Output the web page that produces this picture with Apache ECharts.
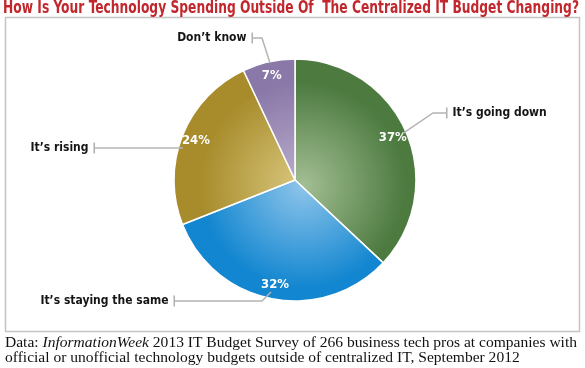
<!DOCTYPE html>
<html>
<head>
<meta charset="utf-8">
<script src="https://cdn.jsdelivr.net/npm/echarts@6/dist/echarts.min.js"></script>
<style>html,body{margin:0;padding:0;background:#fff}#c{width:585px;height:368px}</style>
</head>
<body>
<div id="c"></div>
<script>
// ---- data ----
const categories = ["It\u2019s going down", "It\u2019s staying the same", "It\u2019s rising", "Don\u2019t know"];
const values = [37, 32, 24, 7];
const titleText = "How Is Your Technology Spending Outside Of  The Centralized IT Budget Changing?";
const sourceLine1Parts = ["Data: ", "InformationWeek", " 2013 IT Budget Survey of 266 business tech pros at companies with"];
const sourceLine2 = "official or unofficial technology budgets outside of centralized IT, September 2012";

// ---- styles ----
const baseColors = ["#4c7a3f", "#1286d0", "#a88c2c", "#8a78a8"];
const lightColors = ["#a3be94", "#8ec5ea", "#d9c87e", "#bbaecd"];
const NARROW = '"Liberation Sans Narrow", "DejaVu Sans Condensed", sans-serif';
const TITLE_FONT = 'bold 18px ' + NARROW;
const SERIF_SIZE = 15;
const CX = 295, CY = 180, R = 121;
const labelCfg = {};
labelCfg[categories[0]] = { x: 446, y: 113, align: 'left', bend: [433, 113] };
labelCfg[categories[1]] = { x: 175, y: 301, align: 'right', bend: [262, 301], start: [271, 292] };
labelCfg[categories[2]] = { x: 95, y: 148, align: 'right', start: [183, 148] };
labelCfg[categories[3]] = { x: 253, y: 38, align: 'right', bend: [262, 38], start: [270, 63] };

// measure text to fit target widths
const mctx = document.createElement('canvas').getContext('2d');
function textW(font, s) { mctx.font = font; return mctx.measureText(s).width; }
const titleScale = 576 / textW(TITLE_FONT, titleText);
const serifN = SERIF_SIZE + 'px "Liberation Serif", serif';
const serifI = 'italic ' + SERIF_SIZE + 'px "Liberation Serif", serif';
const line1W = textW(serifN, sourceLine1Parts[0]) + textW(serifI, sourceLine1Parts[1]) + textW(serifN, sourceLine1Parts[2]);
const footScale = 572 / line1W;

function grad(i) {
  return { type: 'radial', x: CX + 8, y: CY + 5, r: R, global: true,
    colorStops: [{ offset: 0, color: lightColors[i] }, { offset: 0.85, color: baseColors[i] }, { offset: 1, color: baseColors[i] }] };
}
const pieData = categories.map((c, i) => ({ name: c, value: values[i], itemStyle: { color: grad(i) } }));
const plainData = categories.map((c, i) => ({ name: c, value: values[i] }));

const chart = echarts.init(document.getElementById('c'), null, { renderer: 'canvas' });
chart.setOption({
  animation: false,
  graphic: [
    { type: 'rect', shape: { x: 5.5, y: 17.5, width: 574, height: 314 }, style: { fill: 'none', stroke: '#c4c4c4', lineWidth: 1.5 }, silent: true },
    { type: 'text', x: 291, y: -1, scaleX: titleScale, style: { text: titleText, fill: '#c1272d', font: TITLE_FONT, textAlign: 'center', textVerticalAlign: 'top' } },
    { type: 'text', x: 5, y: 336, scaleX: footScale, style: {
        text: '{n|' + sourceLine1Parts[0] + '}{i|' + sourceLine1Parts[1] + '}{n|' + sourceLine1Parts[2] + '}',
        rich: { n: { font: serifN, fill: '#111' }, i: { font: serifI, fill: '#111' } } } },
    { type: 'text', x: 5, y: 351, scaleX: footScale, style: { text: sourceLine2, font: serifN, fill: '#111' } }
  ],
  series: [
    { type: 'pie', center: [CX, CY], radius: [0, R], startAngle: 90, clockwise: true, silent: true,
      itemStyle: { borderColor: '#fff', borderWidth: 1.5 }, label: { show: false }, labelLine: { show: false },
      data: pieData },
    { type: 'pie', center: [CX, CY], radius: [86, R], startAngle: 90, clockwise: true, silent: true,
      itemStyle: { color: 'rgba(0,0,0,0)', borderWidth: 0 }, labelLine: { show: false },
      label: { show: true, position: 'inside', formatter: '{c}%', color: '#fff', fontWeight: 'bold', fontSize: 13, fontFamily: NARROW },
      data: plainData, z: 3 },
    { type: 'pie', center: [CX, CY], radius: [0, 118], startAngle: 90, clockwise: true, silent: true, avoidLabelOverlap: false,
      itemStyle: { color: 'rgba(0,0,0,0)', borderWidth: 0 },
      label: { show: true, position: 'outside',
        formatter: p => labelCfg[p.name].align === 'left' ? '{k| }{s| }{t|' + p.name + '}' : '{t|' + p.name + '}{s| }{k| }',
        rich: {
          t: { fontSize: 12, fontWeight: 'bold', color: '#151515', fontFamily: NARROW },
          s: { width: 5 },
          k: { width: 1.5, height: 11, backgroundColor: '#b0b0b0' }
        } },
      labelLine: { show: true, length: 10, length2: 10, lineStyle: { color: '#b4b4b4', width: 1.5 } },
      labelLayout: function (params) {
        const c = labelCfg[plainData[params.dataIndex].name];
        const anchor = c.start || params.labelLinePoints[0];
        const pts = [anchor];
        if (c.bend) pts.push(c.bend);
        pts.push([c.x, c.y]);
        return { x: c.x, y: c.y, align: c.align, verticalAlign: 'middle', labelLinePoints: pts };
      },
      data: plainData, z: 4 }
  ]
});
</script>
</body>
</html>
